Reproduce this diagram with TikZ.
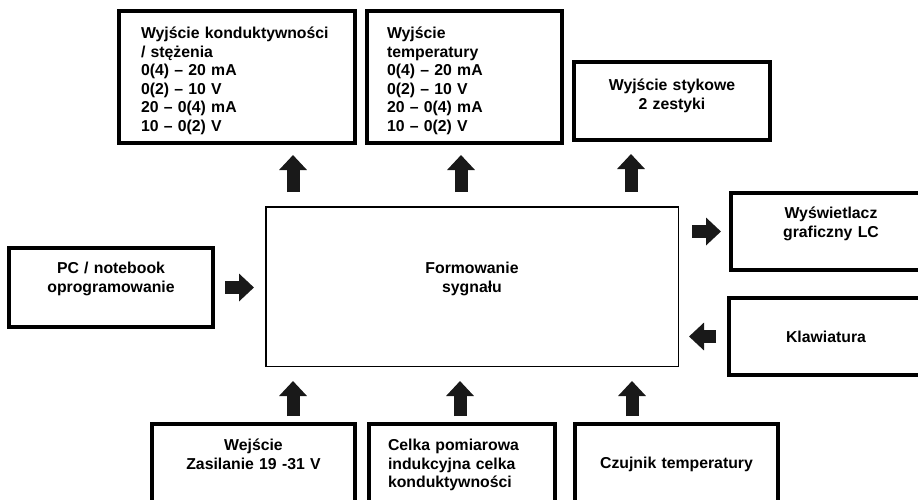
\documentclass[tikz,border=0pt]{standalone}
\usepackage{fontspec}
\setmainfont{Liberation Sans}
\usetikzlibrary{arrows.meta}

\begin{document}
\begin{tikzpicture}[%
    x = 1pt,
    y = -1pt,
    box/.style = {%
      draw,
      line width = 4pt,
      inner sep = 0pt,
      text height = 12pt,
      font = \bfseries\fontsize{15.8}{18.6}\selectfont },
    core/.style = {box, line width = 1.5pt},
    blk/.style = {%
      line width = 13pt,
      draw = black!90,
      -{Triangle[length=15pt, width=27pt]} }
  ]

\useasboundingbox (0,0) rectangle (918,499);
\clip (0,0) rectangle (918,499);

% signal processing
\node[core, minimum width=412.5pt, minimum height=159.5pt, text width=200pt,
  align=center, text depth=38pt] (main) at (472,286.5) {Formowanie\\sygnału};

% outputs
\node[box, minimum width=236pt, minimum height=132pt, text width=192pt,
  align=left, text depth=89pt] (out1) at (237,77)
  {Wyjście konduktywności\\/ stężenia\\0(4) -- 20 mA\\0(2) -- 10 V\\20 -- 0(4) mA\\10 -- 0(2) V};
\node[box, minimum width=195pt, minimum height=132pt, text width=155pt,
  align=left, text depth=89pt] (out2) at (464.5,77)
  {Wyjście\\temperatury\\0(4) -- 20 mA\\0(2) -- 10 V\\20 -- 0(4) mA\\10 -- 0(2) V};
\node[box, minimum width=196pt, minimum height=78pt, text width=180pt,
  align=center, text depth=33pt] (out3) at (672,101) {Wyjście stykowe\\2 zestyki};
\node[box, minimum width=200pt, minimum height=77pt, text width=180pt,
  align=center, text depth=38pt] (disp) at (831,231.5) {Wyświetlacz\\graficzny LC};

% inputs
\node[box, minimum width=194pt, minimum height=77pt, text width=180pt,
  align=center, text depth=1pt] (klaw) at (826,336.5) {Klawiatura};
\node[box, minimum width=204pt, minimum height=79pt, text width=190pt,
  align=center, text depth=40pt] (pc) at (111,287.5) {PC / notebook\\oprogramowanie};
\node[box, minimum width=203pt, minimum height=78pt, text width=190pt,
  align=center, text depth=37pt] (pwr) at (253.5,463) {Wejście\\Zasilanie 19 -31 V};
\node[box, minimum width=186pt, minimum height=78pt, text width=148pt,
  align=left, text depth=37pt] (cell) at (462,463)
  {Celka pomiarowa\\indukcyjna celka\\konduktywności};
\node[box, minimum width=203pt, minimum height=78pt, text width=190pt,
  align=center, text depth=1pt] (tsens) at (676.5,463) {Czujnik temperatury};

\coordinate (a1) at ([xshift=-179pt]main.north);
\coordinate (a2) at ([xshift=-11pt]main.north);
\coordinate (a3) at ([xshift=159pt]main.north);
\coordinate (b1) at ([xshift=-179pt]main.south);
\coordinate (b2) at ([xshift=-12pt]main.south);
\coordinate (b3) at ([xshift=160pt]main.south);

\draw[blk, shorten <=14pt, shorten >=10pt] (a1) -- (a1 |- out1.south);
\draw[blk, shorten <=14pt, shorten >=10pt] (a2) -- (a2 |- out2.south);
\draw[blk, shorten <=14pt, shorten >=12pt] (a3) -- (a3 |- out3.south);

\draw[blk, shorten <=6pt, shorten >=14pt] (b1 |- pwr.north) -- (b1);
\draw[blk, shorten <=6pt, shorten >=14pt] (b2 |- cell.north) -- (b2);
\draw[blk, shorten <=6pt, shorten >=14pt] (b3 |- tsens.north) -- (b3);

\draw[blk, shorten <=13pt, shorten >=8pt] (main.east |- disp.west) -- (disp.west);
\draw[blk, shorten <=11pt, shorten >=10pt] (klaw.west) -- (main.east |- klaw.west);
\draw[blk, shorten <=10pt, shorten >=11pt] (pc.east) -- (main.west |- pc.east);

\end{tikzpicture}
\end{document}
